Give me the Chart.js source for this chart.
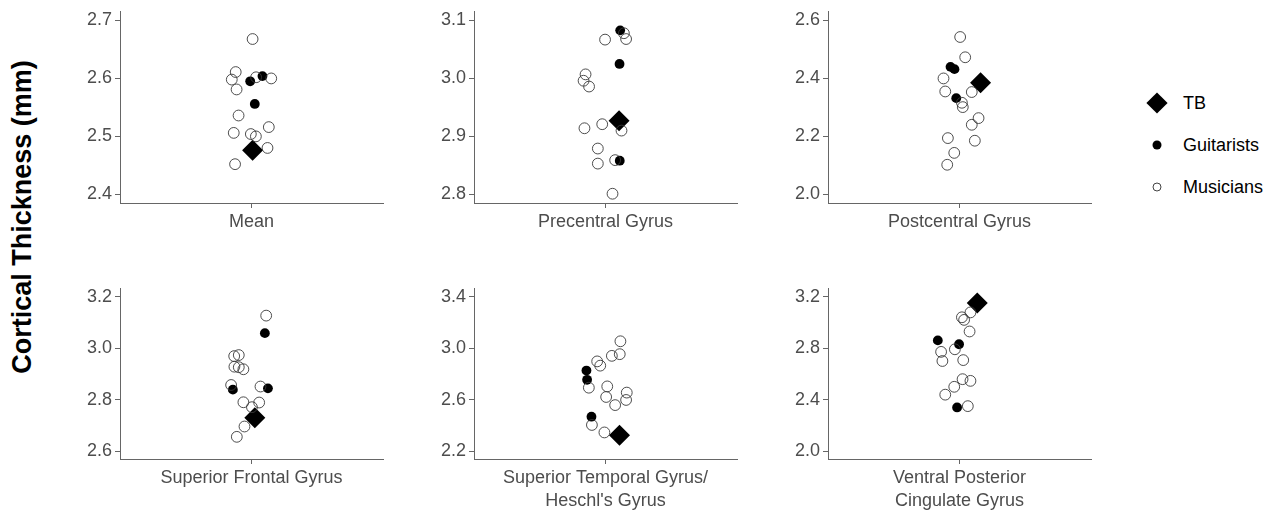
<!DOCTYPE html>
<html>
<head>
<meta charset="utf-8">
<script src="https://cdn.jsdelivr.net/npm/chart.js@4.4.1/dist/chart.umd.min.js"></script>
<style>
  body { margin: 0; background: #fff; font-family: "Liberation Sans", Arial, sans-serif; }
  #wrap { position: relative; width: 1274px; height: 512px; overflow: hidden; }
  .panel { position: absolute; }
  #ytitle {
    position: absolute; left: 22px; top: 217px;
    transform: translate(-50%, -50%) rotate(-90deg);
    font-weight: bold; font-size: 27px; color: #000; white-space: nowrap;
  }
  .leg { position: absolute; left: 1183px; font-size: 18px; color: #000; transform: translateY(-50%); }
  .sym { position: absolute; transform: translate(-50%, -50%); }
</style>
</head>
<body>
<div id="wrap">
  <div id="ytitle">Cortical Thickness (mm)</div>

  <div class="sym" style="left:1157px;top:103px;width:15px;height:15px;background:#000;transform:translate(-50%,-50%) rotate(45deg);"></div>
  <div class="leg" style="top:103px;">TB</div>
  <div class="sym" style="left:1157px;top:145px;width:9px;height:9px;border-radius:50%;background:#000;"></div>
  <div class="leg" style="top:145px;">Guitarists</div>
  <div class="sym" style="left:1157px;top:187px;width:7px;height:7px;border-radius:50%;border:1px solid #444;"></div>
  <div class="leg" style="top:187px;">Musicians</div>
</div>

<script>
// Region names (x category of each panel)
const regions = [
    'Mean',
    'Precentral Gyrus',
    'Postcentral Gyrus',
    'Superior Frontal Gyrus',
    ['Superior Temporal Gyrus/', "Heschl's Gyrus"],
    ['Ventral Posterior', 'Cingulate Gyrus']
];

// y tick labels per panel
const yTicks = [
    [2.4, 2.5, 2.6, 2.7],
    [2.8, 2.9, 3.0, 3.1],
    [2.0, 2.2, 2.4, 2.6],
    [2.6, 2.8, 3.0, 3.2],
    [2.2, 2.6, 3.0, 3.4],
    [2.0, 2.4, 2.8, 3.2]
];

// Musicians: thickness and jittered x position (category centre = 1)
const musiciansY = [
    [2.668, 2.611, 2.598, 2.581, 2.602, 2.600, 2.536, 2.506, 2.504, 2.500, 2.516, 2.480, 2.452],
    [3.078, 3.068, 3.067, 3.007, 2.996, 2.986, 2.910, 2.921, 2.914, 2.879, 2.853, 2.859, 2.801],
    [2.543, 2.473, 2.400, 2.355, 2.353, 2.316, 2.301, 2.263, 2.240, 2.194, 2.185, 2.143, 2.102],
    [3.126, 2.969, 2.973, 2.928, 2.926, 2.918, 2.857, 2.851, 2.790, 2.789, 2.771, 2.696, 2.656],
    [3.053, 2.940, 2.953, 2.897, 2.864, 2.693, 2.703, 2.621, 2.655, 2.598, 2.558, 2.404, 2.346],
    [3.077, 3.039, 3.019, 2.929, 2.791, 2.771, 2.700, 2.707, 2.559, 2.546, 2.500, 2.439, 2.350]
];
const musiciansX = [
    [1.005, 0.928, 0.910, 0.932, 1.021, 1.090, 0.941, 0.919, 0.997, 1.020, 1.079, 1.073, 0.925],
    [1.084, 1.094, 0.998, 0.909, 0.900, 0.925, 1.073, 0.985, 0.904, 0.965, 0.965, 1.044, 1.032],
    [1.003, 1.026, 0.927, 0.935, 1.056, 1.011, 1.015, 1.087, 1.056, 0.947, 1.070, 0.976, 0.944],
    [1.067, 0.921, 0.942, 0.922, 0.942, 0.963, 0.907, 1.041, 0.963, 1.035, 1.002, 0.968, 0.933],
    [1.068, 1.029, 1.065, 0.962, 0.976, 0.924, 1.008, 1.003, 1.097, 1.094, 1.044, 0.938, 0.995],
    [1.050, 1.011, 1.021, 1.046, 0.979, 0.916, 0.922, 1.017, 1.014, 1.050, 0.976, 0.935, 1.038]
];

// Guitarists
const guitaristsY = [
    [2.595, 2.604, 2.556],
    [3.083, 3.025, 2.858],
    [2.440, 2.432, 2.332],
    [3.058, 2.839, 2.844],
    [2.826, 2.754, 2.468],
    [2.860, 2.830, 2.340]
];
const guitaristsX = [
    [0.994, 1.050, 1.015],
    [1.067, 1.064, 1.065],
    [0.959, 0.977, 0.985],
    [1.061, 0.915, 1.075],
    [0.913, 0.916, 0.936],
    [0.901, 0.998, 0.989]
];

// TB
const tbY = [2.476, 2.927, 2.385, 2.730, 2.325, 3.149];
const tbX = [1.005, 1.062, 1.096, 1.015, 1.064, 1.081];

// layout of the plot areas
const colLeft = [120, 474, 828];
const rowTop = [10, 287];
const plotW = 263;
const yAxisW = 70;
const xAxisH = 60;
const padTop = 12;
const padRight = 12;

const textColor = '#4d4d4d';
const lineColor = '#666';

function pts(xs, ys) {
    return ys.map((y, i) => ({ x: xs[i], y: y }));
}

function makePanel(i) {
    const ticks = yTicks[i];
    const lo = ticks[0], hi = ticks[ticks.length - 1];
    const pad = (hi - lo) * 0.05;
    const yMin = lo - pad, yMax = hi + pad;

    const plotH = i < 3 ? 193 : 172;
    const left = colLeft[i % 3] - yAxisW;
    const top = rowTop[Math.floor(i / 3)] - padTop;

    const box = document.createElement('div');
    box.className = 'panel';
    box.style.left = left + 'px';
    box.style.top = top + 'px';
    box.style.width = (yAxisW + plotW + padRight) + 'px';
    box.style.height = (padTop + plotH + xAxisH) + 'px';
    const canvas = document.createElement('canvas');
    box.appendChild(canvas);
    document.getElementById('wrap').appendChild(box);

    new Chart(canvas.getContext('2d'), {
        type: 'scatter',
        data: {
            datasets: [
                {
                    label: 'Musicians',
                    data: pts(musiciansX[i], musiciansY[i]),
                    pointStyle: 'circle',
                    pointRadius: 5.4,
                    backgroundColor: 'rgba(0,0,0,0)',
                    borderColor: '#3a3a3a',
                    borderWidth: 0.9,
                    clip: false
                },
                {
                    label: 'Guitarists',
                    data: pts(guitaristsX[i], guitaristsY[i]),
                    pointStyle: 'circle',
                    pointRadius: 4.9,
                    backgroundColor: '#000',
                    borderColor: '#000',
                    borderWidth: 0,
                    clip: false
                },
                {
                    label: 'TB',
                    data: [{ x: tbX[i], y: tbY[i] }],
                    pointStyle: 'rectRot',
                    pointRadius: 10.5,
                    backgroundColor: '#000',
                    borderColor: '#000',
                    borderWidth: 0,
                    clip: false
                }
            ]
        },
        options: {
            responsive: true,
            maintainAspectRatio: false,
            animation: false,
            layout: { padding: { top: padTop, right: padRight, left: 0, bottom: 0 } },
            plugins: {
                legend: { display: false },
                tooltip: { enabled: false }
            },
            scales: {
                x: {
                    type: 'linear',
                    min: 0.4,
                    max: 1.6,
                    afterBuildTicks: (axis) => { axis.ticks = [{ value: 1 }]; },
                    afterFit: (axis) => { axis.height = xAxisH; },
                    ticks: {
                        callback: () => regions[i],
                        color: textColor,
                        font: { family: 'Liberation Sans', size: 18, lineHeight: 1.25 },
                        padding: 3,
                        maxRotation: 0,
                        autoSkip: false
                    },
                    grid: { drawOnChartArea: false, drawTicks: true, tickLength: 5, color: lineColor },
                    border: { display: true, color: lineColor, width: 1 }
                },
                y: {
                    type: 'linear',
                    min: yMin,
                    max: yMax,
                    afterBuildTicks: (axis) => { axis.ticks = ticks.map(v => ({ value: v })); },
                    afterFit: (axis) => { axis.width = yAxisW; },
                    ticks: {
                        callback: (v) => Number(v).toFixed(1),
                        color: textColor,
                        font: { family: 'Liberation Sans', size: 18 },
                        padding: 3,
                        autoSkip: false
                    },
                    grid: { drawOnChartArea: false, drawTicks: true, tickLength: 5, color: lineColor },
                    border: { display: true, color: lineColor, width: 1 }
                }
            }
        }
    });
}

for (let i = 0; i < regions.length; i++) {
    makePanel(i);
}
</script>
</body>
</html>
